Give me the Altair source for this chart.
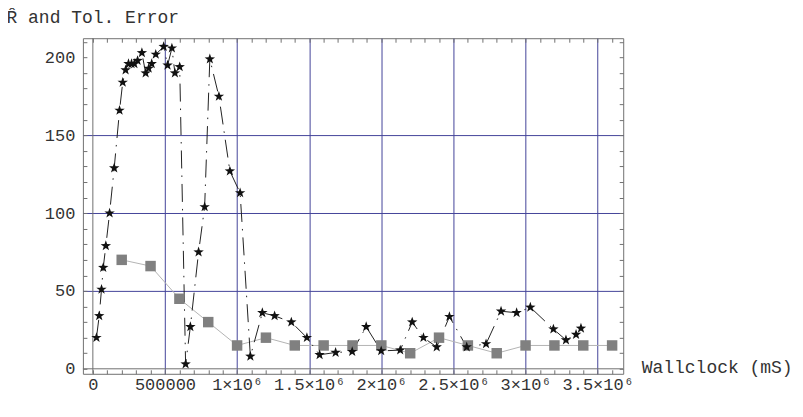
import altair as alt
import pandas as pd

# ---- data ----
SQ_X = [200000, 400000, 600000, 800000, 1000000, 1200000, 1400000, 1600000, 1800000,
        2000000, 2200000, 2400000, 2600000, 2800000, 3000000, 3200000, 3400000, 3600000]
SQ_Y = [70, 66, 45, 30, 15, 20, 15, 15, 15, 15, 10, 20, 15, 10, 15, 15, 15, 15]

STAR_X = [25000, 44000, 60000, 72000, 90000, 116000, 148000, 185000, 207000, 227000,
          247000, 268000, 288000, 310000, 340000, 366000, 387000, 408000, 436000, 491000,
          518000, 548000, 569000, 602000, 643000, 676000, 733000, 775000, 811000, 874000,
          950000, 1021000, 1092000, 1175000, 1260000, 1376000, 1484000, 1572000, 1683000,
          1798000, 1895000, 1999000, 2131000, 2214000, 2292000, 2384000, 2472000, 2592000,
          2726000, 2830000, 2938000, 3033000, 3193000, 3280000, 3350000, 3384000]
STAR_Y = [20, 34, 51, 65, 79, 100, 129, 166, 184, 192,
          196, 196, 196, 198, 203, 190, 193, 196, 202, 207,
          195, 206, 190, 194, 3, 27, 75, 104, 199, 175,
          127, 113, 8, 36, 34, 30, 20, 9, 10.5,
          11, 27, 11.5, 12, 30, 20, 14, 33.5, 14,
          16, 37, 36, 39.5, 25.5, 18.5, 22, 26]

X_TICKS = [0, 500000, 1000000, 1500000, 2000000, 2500000, 3000000, 3500000]
X_TICK_LABELS = ["0", "500000", "1×10⁶", "1.5×10⁶", "2×10⁶", "2.5×10⁶", "3×10⁶", "3.5×10⁶"]
Y_TICKS = [0, 50, 100, 150, 200]
X_GRID = [500000, 1000000, 1500000, 2000000, 2500000, 3000000, 3500000]
Y_GRID = [50, 100, 150]
X_MINOR = list(range(0, 3700000, 100000))
Y_MINOR = list(range(0, 211, 10))
AXIS_ZERO = [0]

X_DOMAIN = [-69000, 3677000]
Y_DOMAIN = [-3.2, 212.4]

FONT = "Liberation Mono, DejaVu Sans Mono, monospace"
TXT = "#333333"
GRID = "#44449a"
FRAME = "#707070"

STAR_PATH = ("M0,-1 L0.235,-0.324 L0.951,-0.309 L0.380,0.124 L0.588,0.809 L0,0.4 "
             "L-0.588,0.809 L-0.380,0.124 L-0.951,-0.309 L-0.235,-0.324 Z")


def label_expr(vals, labels):
    expr = "''"
    for v, l in reversed(list(zip(vals, labels))):
        expr = f"datum.value == {v} ? '{l}' : ({expr})"
    return expr


sq = pd.DataFrame({"x": SQ_X, "y": SQ_Y})
st = pd.DataFrame({"x": STAR_X, "y": STAR_Y})
zero = pd.DataFrame({"v": AXIS_ZERO})

xscale = alt.Scale(domain=X_DOMAIN, nice=False, zero=False)
yscale = alt.Scale(domain=Y_DOMAIN, nice=False, zero=False)

major_x = alt.Axis(
    orient="bottom", values=X_TICKS, labelExpr=label_expr(X_TICKS, X_TICK_LABELS),
    grid=False, ticks=False, domain=False,
    labelFont=FONT, labelFontSize=17, labelColor=TXT, labelPadding=3,
    labelFlush=False, labelOverlap=False, labelBaseline="top",
    title="Wallclock (mS)", titleFont=FONT, titleFontSize=18, titleFontWeight="normal",
    titleColor=TXT, titleX=559, titleY=-6, titleAlign="left", titleBaseline="middle",
    titleAngle=0,
)
major_y = alt.Axis(
    orient="left", values=Y_TICKS, grid=False, ticks=False, domain=False,
    labelFont=FONT, labelFontSize=17, labelColor=TXT, labelPadding=8,
    title="R\u0302 and Tol. Error", titleFont=FONT, titleFontSize=18,
    titleFontWeight="normal", titleColor=TXT, titleAngle=0, titleLimit=400,
    titleX=-77, titleY=-21, titleAlign="left", titleBaseline="middle",
)


def grid_axis(orient, vals):
    return alt.Axis(orient=orient, values=vals, grid=True, gridColor=GRID, gridWidth=1,
                    gridOpacity=1, ticks=False, labels=False, domain=False, title="")


def minor(orient, vals):
    return alt.Axis(orient=orient, offset=-4, values=vals, tickSize=4,
                    tickColor=FRAME, tickWidth=1, labels=False, domain=False,
                    grid=False, title="")


l_zero_x = alt.Chart(zero).mark_rule(color=FRAME, strokeWidth=1).encode(
    x=alt.X("v:Q", scale=xscale, axis=None)
)
l_zero_y = alt.Chart(zero).mark_rule(color=FRAME, strokeWidth=1).encode(
    y=alt.Y("v:Q", scale=yscale, axis=None)
)
l_sq_line = alt.Chart(sq).mark_line(color="#b4b4b4", strokeWidth=1).encode(
    x=alt.X("x:Q", scale=xscale, axis=major_x),
    y=alt.Y("y:Q", scale=yscale, axis=major_y),
)
l_st_line = alt.Chart(st).mark_line(
    color="#222222", strokeWidth=1, strokeDash=[18, 7, 1.5, 7]
).encode(
    x=alt.X("x:Q", scale=xscale, axis=minor("bottom", X_MINOR)),
    y=alt.Y("y:Q", scale=yscale, axis=minor("left", Y_MINOR)),
)
l_sq_pts = alt.Chart(sq).mark_point(
    shape="square", filled=True, size=110, color="#808080", opacity=1
).encode(
    x=alt.X("x:Q", scale=xscale, axis=minor("top", X_MINOR)),
    y=alt.Y("y:Q", scale=yscale, axis=minor("right", Y_MINOR)),
)
l_st_pts = alt.Chart(st).mark_point(
    shape=STAR_PATH, filled=True, size=120, color="#111111", opacity=1
).encode(
    x=alt.X("x:Q", scale=xscale, axis=grid_axis("bottom", X_GRID)),
    y=alt.Y("y:Q", scale=yscale, axis=grid_axis("left", Y_GRID)),
)

chart = (
    alt.layer(l_zero_x, l_zero_y, l_sq_line, l_st_line, l_sq_pts, l_st_pts)
    .resolve_axis(x="independent", y="independent")
    .properties(
        width=541, height=336,
        padding={"left": 75, "top": 30, "right": 172, "bottom": 28},
        autosize=alt.AutoSizeParams(type="none"),
        background="white",
    )
    .configure_view(stroke=FRAME, strokeWidth=1)
)

chart.save("out.html", embed_options={"renderer": "svg", "actions": False})
